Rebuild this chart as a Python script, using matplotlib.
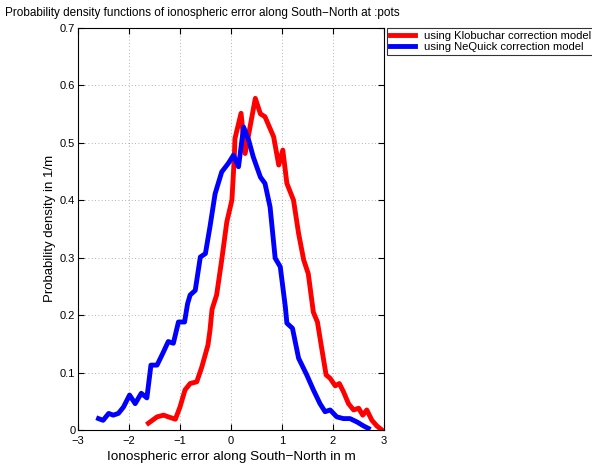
import matplotlib
matplotlib.use("Agg")
import matplotlib.pyplot as plt

plt.rcParams['font.family'] = ['Liberation Sans', 'DejaVu Sans']

# Klobuchar curve
klob_x = [-1.62, -1.45, -1.32, -1.23, -1.09, -1.00, -0.90, -0.80, -0.67, -0.57,
          -0.45, -0.41, -0.37, -0.28, -0.18, -0.08, 0.02, 0.065, 0.08, 0.20,
          0.28, 0.48, 0.58, 0.67, 0.84, 0.94, 1.02, 1.10, 1.23, 1.33,
          1.43, 1.52, 1.62, 1.70, 1.79, 1.87, 1.95, 2.05, 2.13, 2.21,
          2.31, 2.41, 2.51, 2.59, 2.67, 2.77, 2.87, 2.97]
klob_y = [0.012, 0.023, 0.026, 0.023, 0.019, 0.040, 0.070, 0.081, 0.084, 0.110,
          0.148, 0.174, 0.210, 0.235, 0.296, 0.362, 0.400, 0.470, 0.507, 0.551,
          0.481, 0.577, 0.550, 0.545, 0.510, 0.461, 0.487, 0.429, 0.400, 0.342,
          0.296, 0.272, 0.205, 0.188, 0.139, 0.096, 0.090, 0.077, 0.081, 0.067,
          0.046, 0.035, 0.038, 0.026, 0.035, 0.017, 0.007, 0.000]

# NeQuick curve
neq_x = [-2.60, -2.51, -2.40, -2.31, -2.21, -2.11, -1.99, -1.88, -1.76, -1.65,
         -1.57, -1.45, -1.34, -1.23, -1.13, -1.03, -0.91, -0.85, -0.80, -0.70,
         -0.60, -0.50, -0.41, -0.31, -0.18, -0.05, 0.05, 0.15, 0.25, 0.35,
         0.44, 0.58, 0.67, 0.77, 0.87, 0.97, 1.07, 1.10, 1.21, 1.33,
         1.49, 1.62, 1.75, 1.85, 1.95, 2.08, 2.21, 2.34, 2.48, 2.61, 2.70]
neq_y = [0.020, 0.017, 0.029, 0.026, 0.029, 0.040, 0.061, 0.046, 0.064, 0.056,
         0.113, 0.113, 0.133, 0.154, 0.151, 0.188, 0.188, 0.220, 0.235, 0.243,
         0.301, 0.307, 0.354, 0.411, 0.449, 0.464, 0.478, 0.458, 0.527, 0.504,
         0.475, 0.440, 0.429, 0.388, 0.299, 0.284, 0.214, 0.186, 0.177, 0.125,
         0.096, 0.070, 0.046, 0.032, 0.035, 0.023, 0.020, 0.020, 0.014, 0.007, 0.003]

fig = plt.figure(figsize=(5.92, 4.68), dpi=100)
ax = fig.add_axes([0.132, 0.081, 0.516, 0.860])

ax.plot(klob_x, klob_y, color='red', linewidth=3.5, label='using Klobuchar correction model')
ax.plot(neq_x, neq_y, color='blue', linewidth=3.5, label='using NeQuick correction model')

ax.set_xlim(-3, 3)
ax.set_ylim(0, 0.7)
ax.set_xticks(range(-3, 4))
ax.set_xticklabels(['\u22123', '\u22122', '\u22121', '0', '1', '2', '3'])
ax.set_yticks([0, 0.1, 0.2, 0.3, 0.4, 0.5, 0.6, 0.7])
ax.set_yticklabels(['0', '0.1', '0.2', '0.3', '0.4', '0.5', '0.6', '0.7'])
ax.tick_params(direction='in', top=True, right=True, labelsize=8, length=4)
ax.tick_params(axis='x', pad=4)
ax.tick_params(axis='y', pad=2)
ax.grid(True, linestyle=(0, (1, 3)), color='gray', linewidth=0.6, alpha=0.8)
for s in ax.spines.values():
    s.set_linewidth(0.8)

ax.set_xlabel('Ionospheric error along South\u2212North in m', fontsize=9.7, labelpad=4)
ax.set_ylabel('Probability density in 1/m', fontsize=9.5, labelpad=3)
fig.text(0.009, 0.985, 'Probability density functions of ionospheric error along South\u2212North at :pots',
         fontsize=8.5, ha='left', va='top')

leg = ax.legend(loc='upper left', bbox_to_anchor=(1.01, 1.0), fontsize=8.1,
                frameon=True, fancybox=False, borderaxespad=0, handlelength=2.2,
                borderpad=0.3, labelspacing=0.1, handletextpad=0.8)
leg.get_frame().set_edgecolor('black')
leg.get_frame().set_linewidth(0.8)

fig.savefig('out.png', dpi=100)
